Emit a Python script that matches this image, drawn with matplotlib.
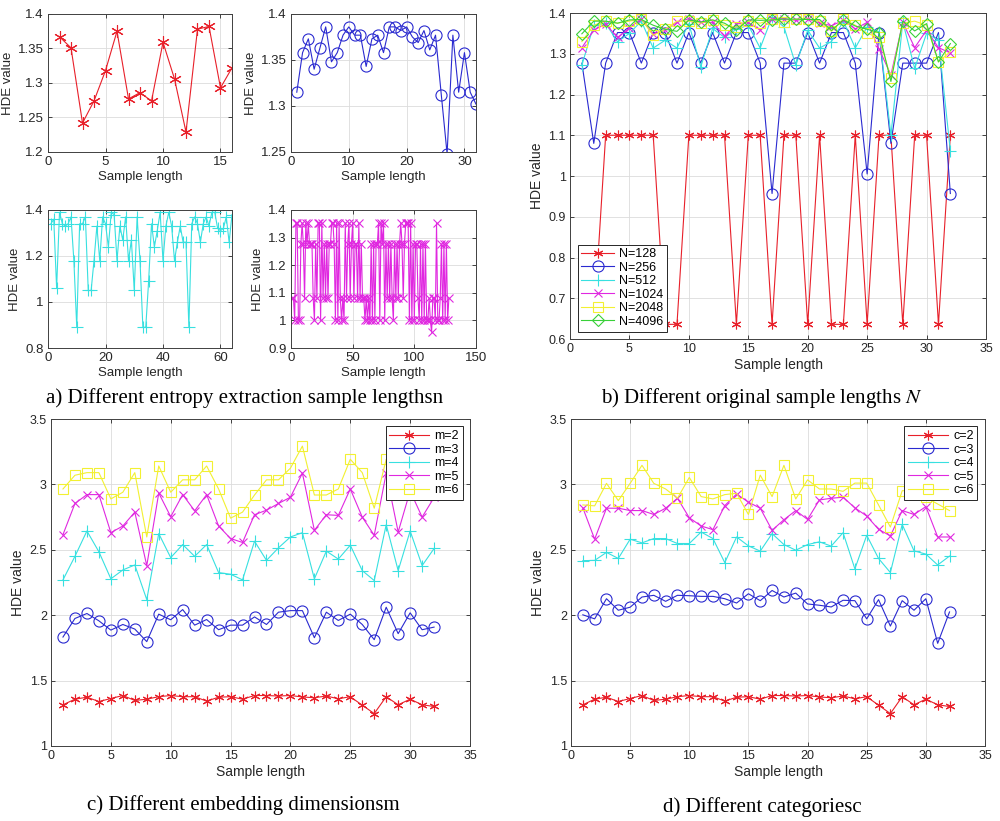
import numpy as np
import matplotlib
matplotlib.use("Agg")
import matplotlib.pyplot as plt

plt.rcParams['font.family'] = ['Liberation Sans', 'DejaVu Sans']
plt.rcParams['mathtext.fontset'] = 'stix'

# ---------------- data ----------------
# a) sample lengths 16 / 32 / 64 / 128
a16 = [1.367, 1.351, 1.242, 1.274, 1.318, 1.375, 1.277, 1.286, 1.274, 1.359,
       1.306, 1.229, 1.378, 1.382, 1.293, 1.322]

# same 32-point curve appears in a), b) N=1024, c) m=2 and d) c=2
base32 = [1.315, 1.358, 1.373, 1.340, 1.363, 1.386, 1.348, 1.358, 1.377, 1.386,
          1.377, 1.377, 1.343, 1.373, 1.377, 1.358, 1.386, 1.386, 1.382, 1.386,
          1.375, 1.369, 1.382, 1.361, 1.377, 1.312, 1.248, 1.377, 1.315, 1.358,
          1.315, 1.302]

a64 = [1.34, 1.36, 1.06, 1.39, 1.34, 1.33, 1.34, 1.37, 1.18, 0.89,
       1.34, 1.34, 1.37, 1.05, 1.05, 1.18, 1.33, 1.18, 1.37, 1.34,
       1.24, 1.39, 1.38, 1.18, 1.33, 1.27, 1.37, 1.18, 1.27, 1.05,
       1.37, 1.18, 0.89, 0.89, 1.09, 1.34, 1.24, 1.31, 1.39, 1.18,
       1.33, 1.39, 1.33, 1.18, 1.26, 1.33, 1.26, 1.26, 0.89, 1.34,
       1.37, 1.34, 1.26, 1.34, 1.37, 1.33, 1.39, 1.39, 1.32, 1.31,
       1.32, 1.37, 1.26, 1.38]

a128 = [1.08, 1.08, 1.0, 1.352, 1.352, 1.0, 1.0, 1.277, 1.352, 1.277,
        1.08, 1.352, 1.277, 1.352, 1.277, 1.277, 1.277, 1.08, 1.0, 1.277,
        1.08, 1.352, 1.352, 1.0, 1.352, 1.08, 1.277, 1.08, 1.277, 1.08,
        1.277, 1.277, 1.352, 1.352, 1.277, 1.0, 1.352, 1.0, 1.352, 1.08,
        1.0, 1.08, 1.0, 1.352, 1.08, 1.277, 1.352, 1.08, 1.277, 1.352,
        1.08, 1.277, 1.277, 1.08, 1.352, 1.08, 1.277, 1.08, 1.08, 1.0,
        1.08, 1.0, 1.08, 1.0, 1.277, 1.0, 1.277, 1.0, 1.277, 1.277,
        1.352, 1.0, 1.352, 1.277, 1.352, 1.0, 1.277, 1.08, 1.277, 1.08,
        1.277, 1.08, 1.0, 1.277, 1.08, 1.277, 1.08, 1.277, 1.352, 1.277,
        1.08, 1.277, 1.352, 1.352, 1.352, 1.0, 1.352, 1.0, 1.277, 1.0,
        1.277, 1.277, 1.08, 1.0, 1.277, 1.0, 1.277, 1.0, 1.277, 1.0,
        1.0, 1.08, 1.0, 0.957, 1.08, 1.08, 1.0, 1.352, 1.0, 1.0,
        1.08, 1.277, 1.0, 1.277, 1.0, 1.277, 1.0, 1.08]

# b) original sample length N
n128 = [0.636, 0.636, 1.1, 1.1, 1.1, 1.1, 1.1, 0.636, 0.636, 1.1,
        1.1, 1.1, 1.1, 0.636, 1.1, 1.1, 0.636, 1.1, 1.1, 0.636,
        1.1, 0.636, 0.636, 1.1, 0.636, 1.1, 1.1, 0.636, 1.1, 1.1,
        0.636, 1.1]
n256 = [1.277, 1.08, 1.277, 1.352, 1.352, 1.277, 1.352, 1.352, 1.277, 1.352,
        1.277, 1.352, 1.277, 1.352, 1.352, 1.277, 0.957, 1.277, 1.277, 1.352,
        1.277, 1.352, 1.352, 1.277, 1.005, 1.352, 1.08, 1.277, 1.277, 1.277,
        1.352, 0.957]
n512 = [1.272, 1.37, 1.375, 1.329, 1.35, 1.38, 1.314, 1.333, 1.314, 1.374,
        1.268, 1.362, 1.34, 1.36, 1.37, 1.314, 1.39, 1.366, 1.272, 1.358,
        1.314, 1.33, 1.38, 1.314, 1.366, 1.354, 1.10, 1.378, 1.264, 1.35,
        1.333, 1.062]
n1024 = base32
n2048 = [1.33, 1.37, 1.38, 1.375, 1.38, 1.385, 1.345, 1.36, 1.38, 1.38,
         1.375, 1.383, 1.37, 1.365, 1.38, 1.375, 1.385, 1.378, 1.385, 1.385,
         1.38, 1.355, 1.385, 1.37, 1.35, 1.34, 1.24, 1.375, 1.38, 1.37,
         1.28, 1.305]
n4096 = [1.349, 1.38, 1.38, 1.375, 1.383, 1.384, 1.37, 1.36, 1.355, 1.383,
         1.378, 1.383, 1.375, 1.358, 1.383, 1.382, 1.383, 1.385, 1.385, 1.384,
         1.384, 1.357, 1.383, 1.368, 1.36, 1.352, 1.232, 1.38, 1.356, 1.374,
         1.28, 1.325]

# c) embedding dimension m
m2 = base32
m3 = [1.833, 1.975, 2.013, 1.957, 1.886, 1.929, 1.894, 1.798, 2.008, 1.965,
      2.043, 1.924, 1.967, 1.889, 1.924, 1.924, 1.987, 1.929, 2.023, 2.035,
      2.035, 1.828, 2.023, 1.96, 2.008, 1.929, 1.813, 2.061, 1.859, 2.018,
      1.889, 1.909]
m4 = [2.27, 2.45, 2.644, 2.485, 2.278, 2.346, 2.384, 2.119, 2.624, 2.44,
      2.54, 2.45, 2.54, 2.326, 2.313, 2.27, 2.566, 2.419, 2.515, 2.598,
      2.631, 2.278, 2.49, 2.429, 2.535, 2.341, 2.265, 2.692, 2.341, 2.644,
      2.379, 2.51]
m5 = [2.616, 2.854, 2.922, 2.922, 2.631, 2.682, 2.788, 2.379, 2.934, 2.753,
      2.922, 2.798, 2.922, 2.682, 2.586, 2.556, 2.768, 2.803, 2.854, 2.902,
      3.086, 2.649, 2.768, 2.763, 2.965, 2.75, 2.611, 3.086, 2.636, 2.95,
      2.75, 2.9]
m6 = [2.965, 3.07, 3.09, 3.09, 2.889, 2.94, 3.09, 2.598, 3.141, 2.94,
      3.035, 3.035, 3.141, 2.965, 2.742, 2.788, 2.919, 3.035, 3.035, 3.124,
      3.293, 2.919, 2.919, 2.965, 3.192, 3.09, 2.818, 3.192, 3.05, 3.15,
      3.0, 3.1]

# d) number of categories c
c2 = base32
c3 = [2.003, 1.972, 2.126, 2.038, 2.061, 2.139, 2.152, 2.106, 2.152, 2.149,
      2.144, 2.144, 2.126, 2.093, 2.164, 2.111, 2.189, 2.139, 2.169, 2.086,
      2.076, 2.063, 2.114, 2.111, 1.972, 2.119, 1.917, 2.111, 2.038, 2.126,
      1.785, 2.025]
c4 = [2.417, 2.419, 2.48, 2.434, 2.581, 2.553, 2.586, 2.586, 2.548, 2.548,
      2.636, 2.586, 2.402, 2.598, 2.53, 2.49, 2.624, 2.54, 2.497, 2.54,
      2.561, 2.528, 2.631, 2.354, 2.611, 2.434, 2.326, 2.694, 2.492, 2.467,
      2.384, 2.452]
c5 = [2.821, 2.581, 2.818, 2.818, 2.8, 2.8, 2.77, 2.818, 2.894, 2.745,
      2.682, 2.654, 2.838, 2.927, 2.864, 2.818, 2.649, 2.73, 2.8, 2.732,
      2.881, 2.894, 2.902, 2.821, 2.758, 2.657, 2.606, 2.8, 2.77, 2.83,
      2.598, 2.598]
c6 = [2.843, 2.836, 3.008, 2.876, 3.008, 3.146, 3.008, 2.965, 2.894, 3.053,
      2.907, 2.889, 2.922, 2.932, 2.77, 3.071, 2.907, 3.146, 2.889, 3.035,
      2.965, 2.965, 2.947, 3.01, 3.01, 2.843, 2.674, 2.952, 2.95, 2.9,
      2.85, 2.8]

# ---------------- style ----------------
RED, BLUE, CYAN = '#e8202a', '#2a2ad0', '#38e0e0'
MAG, YEL, GRN = '#e028e0', '#f2f032', '#38d038'
ASTER = (6, 2, 0)
TXT = '#262626'

W, H = 1000, 821
fig = plt.figure(figsize=(10, 8.21), dpi=100)


def box(l, t, r, b):
    return fig.add_axes([l / W, 1 - b / H, (r - l) / W, (b - t) / H])


def matlab(ax, xlim, ylim, xt, yt, fs_tick, fs_lab):
    ax.set_xlim(*xlim)
    ax.set_ylim(*ylim)
    ax.set_xticks(xt)
    ax.set_yticks(yt)
    ax.set_yticklabels([('%g' % v) for v in yt])
    ax.grid(True, color='#dcdcdc', lw=0.6)
    ax.set_axisbelow(True)
    ax.tick_params(direction='in', top=True, right=True, length=3,
                   width=0.6, colors=TXT, labelsize=fs_tick, pad=3)
    for s in ax.spines.values():
        s.set_color('#404040')
        s.set_linewidth(0.7)
    ax.set_xlabel('Sample length', fontsize=fs_lab, color=TXT, labelpad=2)
    ax.set_ylabel('HDE value', fontsize=fs_lab, color=TXT, labelpad=3)


def series(ax, y, color, marker, ms=7, label=None):
    x = np.arange(1, len(y) + 1)
    ax.plot(x, y, color=color, lw=0.8, marker=marker, ms=ms, mfc='none',
            mec=color, mew=0.8, label=label)


def legend(ax, loc, hl):
    leg = ax.legend(loc=loc, fontsize=9, handlelength=hl, labelspacing=0.12,
                    borderpad=0.3, handletextpad=0.4, fancybox=False,
                    framealpha=1, borderaxespad=0.6)
    leg.get_frame().set_edgecolor('#262626')
    leg.get_frame().set_linewidth(0.7)


# a) four small panels
ax = box(48, 14, 232, 152)
series(ax, a16, RED, ASTER, ms=9)
matlab(ax, (0, 16), (1.2, 1.4), [0, 5, 10, 15], [1.2, 1.25, 1.3, 1.35, 1.4], 9.5, 9.5)

ax = box(291, 14, 476, 152)
series(ax, base32, BLUE, 'o', ms=8)
matlab(ax, (0, 32), (1.25, 1.4), [0, 10, 20, 30], [1.25, 1.3, 1.35, 1.4], 9.5, 9.5)

ax = box(48, 210, 232, 348)
series(ax, a64, CYAN, '+', ms=8)
matlab(ax, (0, 64), (0.8, 1.4), [0, 20, 40, 60], [0.8, 1.0, 1.2, 1.4], 9.5, 9.5)

ax = box(291, 210, 476, 348)
series(ax, a128, MAG, 'x', ms=6)
matlab(ax, (0, 150), (0.9, 1.4), [0, 50, 100, 150], [0.9, 1.0, 1.1, 1.2, 1.3, 1.4], 9.5, 9.5)

# b) original sample length
ax = box(570, 13, 986, 339)
series(ax, n128, RED, ASTER, label='N=128')
series(ax, n256, BLUE, 'o', ms=8, label='N=256')
series(ax, n512, CYAN, '+', ms=8, label='N=512')
series(ax, n1024, MAG, 'x', ms=6, label='N=1024')
series(ax, n2048, YEL, 's', ms=7, label='N=2048')
series(ax, n4096, GRN, 'D', ms=6, label='N=4096')
matlab(ax, (0, 35), (0.6, 1.4), range(0, 36, 5),
       [0.6, 0.7, 0.8, 0.9, 1.0, 1.1, 1.2, 1.3, 1.4], 9, 10)
legend(ax, 'lower left', 2.6)

# c) embedding dimension
ax = box(51, 419, 470, 746)
series(ax, m2, RED, ASTER, label='m=2')
series(ax, m3, BLUE, 'o', ms=8, label='m=3')
series(ax, m4, CYAN, '+', ms=8, label='m=4')
series(ax, m5, MAG, 'x', ms=6, label='m=5')
series(ax, m6, YEL, 's', ms=7, label='m=6')
matlab(ax, (0, 35), (1, 3.5), range(0, 36, 5), [1, 1.5, 2, 2.5, 3, 3.5], 9, 10)
legend(ax, 'upper right', 3.2)

# d) categories
ax = box(571, 419, 985, 746)
series(ax, c2, RED, ASTER, label='c=2')
series(ax, c3, BLUE, 'o', ms=8, label='c=3')
series(ax, c4, CYAN, '+', ms=8, label='c=4')
series(ax, c5, MAG, 'x', ms=6, label='c=5')
series(ax, c6, YEL, 's', ms=7, label='c=6')
matlab(ax, (0, 35), (1, 3.5), range(0, 36, 5), [1, 1.5, 2, 2.5, 3, 3.5], 9, 10)
legend(ax, 'upper right', 3.2)

# captions
cap = dict(family=['Liberation Serif', 'DejaVu Serif'], fontsize=15, color='black',
           ha='center', va='center')
fig.text(245 / W, 1 - 398 / H, 'a) Different entropy extraction sample lengthsn', **cap)
fig.text(762 / W, 1 - 398 / H, 'b) Different original sample lengths $\\mathit{N}$', **cap)
fig.text(243 / W, 1 - 805 / H, 'c) Different embedding dimensionsm', **cap)
fig.text(762 / W, 1 - 807 / H, 'd) Different categoriesc', **cap)

fig.savefig('out.png', dpi=100)
